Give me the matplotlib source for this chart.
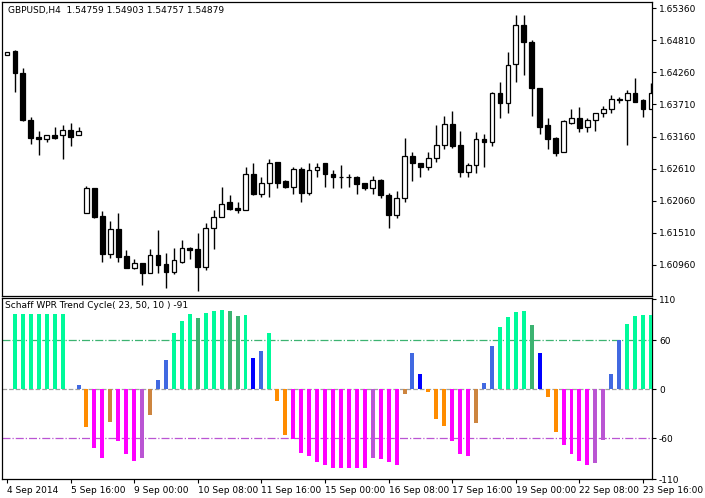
import matplotlib
matplotlib.use("Agg")
import matplotlib.pyplot as plt
import numpy as np

opens = [1.6455,1.6462,1.6424,1.6345,1.6316,1.6311,1.6318,1.6318,1.6328,1.6318,
         1.6185,1.6227,1.6180,1.6115,1.6158,1.6111,1.6091,1.6099,1.6082,1.6113,
         1.6098,1.6084,1.6101,1.6125,1.6123,1.6092,1.6160,1.6178,1.6203,1.6194,
         1.6190,1.6251,1.6218,1.6237,1.6273,1.6239,1.6230,1.6261,1.6220,1.6258,
         1.6270,1.6251,1.6247,1.6247,1.6246,1.6237,1.6227,1.6242,1.6216,1.6182,
         1.6211,1.6282,1.6270,1.6263,1.6280,1.6301,1.6337,1.6301,1.6256,1.6268,
         1.6311,1.6306,1.6390,1.6373,1.6440,1.6507,1.6478,1.6399,1.6335,1.6313,
         1.6289,1.6340,1.6347,1.6332,1.6345,1.6356,1.6363,1.6381,1.6378,1.6390,
         1.6378,1.6364]
highs = [1.6461,1.6464,1.6433,1.6350,1.6325,1.6318,1.6332,1.6335,1.6340,1.6333,
         1.6232,1.6227,1.6189,1.6172,1.6185,1.6122,1.6106,1.6099,1.6123,1.6156,
         1.6117,1.6125,1.6139,1.6127,1.6151,1.6168,1.6190,1.6230,1.6216,1.6203,
         1.6264,1.6270,1.6246,1.6277,1.6273,1.6242,1.6264,1.6264,1.6271,1.6270,
         1.6271,1.6259,1.6268,1.6251,1.6249,1.6237,1.6249,1.6244,1.6220,1.6223,
         1.6313,1.6289,1.6271,1.6289,1.6335,1.6352,1.6359,1.6325,1.6271,1.6323,
         1.6320,1.6393,1.6409,1.6461,1.6524,1.6524,1.6481,1.6400,1.6347,1.6316,
         1.6345,1.6364,1.6366,1.6347,1.6356,1.6368,1.6388,1.6383,1.6395,1.6416,
         1.6380,1.6407]
lows = [1.6455,1.6393,1.6342,1.6304,1.6285,1.6306,1.6311,1.6278,1.6299,1.6318,
        1.6185,1.6177,1.6101,1.6108,1.6101,1.6091,1.6089,1.6062,1.6082,1.6082,
        1.6056,1.6080,1.6099,1.6106,1.6051,1.6087,1.6123,1.6178,1.6190,1.6185,
        1.6190,1.6216,1.6213,1.6213,1.6227,1.6227,1.6218,1.6203,1.6216,1.6247,
        1.6230,1.6228,1.6228,1.6230,1.6218,1.6225,1.6218,1.6211,1.6160,1.6177,
        1.6204,1.6239,1.6247,1.6259,1.6273,1.6294,1.6297,1.6247,1.6246,1.6254,
        1.6264,1.6299,1.6347,1.6356,1.6409,1.6421,1.6352,1.6320,1.6294,1.6282,
        1.6289,1.6337,1.6323,1.6323,1.6325,1.6349,1.6356,1.6373,1.6301,1.6376,
        1.6350,1.6364]
closes = [1.6461,1.6424,1.6344,1.6314,1.6311,1.6318,1.6314,1.6328,1.6316,1.6326,
          1.6227,1.6178,1.6115,1.6158,1.6110,1.6091,1.6099,1.6082,1.6113,1.6096,
          1.6084,1.6105,1.6125,1.6122,1.6092,1.6160,1.6178,1.6201,1.6192,1.6190,
          1.6251,1.6218,1.6237,1.6271,1.6237,1.6230,1.6261,1.6220,1.6259,1.6263,
          1.6251,1.6246,1.6246,1.6246,1.6235,1.6227,1.6242,1.6216,1.6182,1.6211,
          1.6282,1.6270,1.6263,1.6280,1.6301,1.6337,1.6299,1.6256,1.6268,1.6311,
          1.6306,1.6390,1.6373,1.6438,1.6507,1.6478,1.6399,1.6333,1.6311,1.6287,
          1.6342,1.6347,1.6330,1.6345,1.6356,1.6363,1.6381,1.6378,1.6390,1.6376,
          1.6364,1.6390]

stc = [0,92,92,92,92,92,92,92,0,5,-46,-72,-84,-40,-63,-80,-88,-84,-32,11,
       36,68,83,92,87,93,96,97,95,89,91,38,47,69,-14,-56,-61,-78,-82,-89,
       -93,-96,-96,-96,-96,-96,-84,-85,-89,-93,-6,44,19,-4,-37,-45,-63,-79,-82,-41,
       8,53,76,88,94,95,78,44,-10,-53,-68,-80,-88,-93,-90,-62,18,60,79,89,
       91,91]
stc_state = list("GGGGGGGGBBOMMPMMMVPB"
                 "BGGGSGGGSSGKBGOOMMMM"
                 "MMMMMMVMMMPBKOOOMMMP"
                 "BBGGGGSKOOMMMMVVBBGG"
                 "GG")
state_colors = {"G": "#00FA9A", "S": "#3CB371", "B": "#4169E1", "K": "#0000FF",
                "O": "#FF8C00", "P": "#CD853F", "M": "#FF00FF", "V": "#BA55D3"}

price_ticks = [1.60960, 1.61510, 1.62060, 1.62610, 1.63160, 1.63710, 1.64260, 1.64810, 1.65360]
ind_ticks = [110, 60, 0, -60, -110]
date_labels = ["4 Sep 2014", "5 Sep 16:00", "9 Sep 00:00", "10 Sep 08:00", "11 Sep 16:00",
               "15 Sep 00:00", "16 Sep 08:00", "17 Sep 16:00", "19 Sep 00:00",
               "22 Sep 08:00", "23 Sep 16:00"]
date_pos = [0, 8, 16, 24, 32, 40, 48, 56, 64, 72, 80]

plt.rcParams["font.family"] = ["DejaVu Sans"]
W, H = 705, 498
fig = plt.figure(figsize=(W / 100, H / 100), dpi=100)
ax1 = fig.add_axes([2 / W, 1 - 296 / H, 650 / W, 294 / H])
ax2 = fig.add_axes([2 / W, 1 - 479 / H, 650 / W, 181 / H])

x = np.arange(len(opens))
o = np.array(opens); c = np.array(closes); h = np.array(highs); l = np.array(lows)
up = c >= o
ax1.vlines(x, l, h, color="black", lw=1)
bot = np.minimum(o, c)
hei = np.maximum(np.abs(c - o), 0.00004)
ax1.bar(x, hei, 0.6, bottom=bot, color=np.where(up, "white", "black"),
        edgecolor="black", linewidth=0.9, zorder=3)
ax1.set_ylim(1.6550 - 0.000172 * 295, 1.6550 - 0.000172 * 2)
ax1.text(0.01, 0.985, "GBPUSD,H4  1.54759 1.54903 1.54757 1.54879", transform=ax1.transAxes,
         fontsize=6.5, va="top", ha="left")

cols = [state_colors[s] for s in stc_state]
ax2.bar(x, stc, 0.5, color=cols, zorder=3)
ax2.axhline(60, color="#3CB371", lw=0.9, ls="-.")
ax2.axhline(-60, color="#BA55D3", lw=0.9, ls="-.")
ax2.axhline(0, color="#a0a0a0", lw=0.9, ls="--")
ax2.set_ylim(-109, 111.4)
ax2.text(0.005, 0.985, "Schaff WPR Trend Cycle( 23, 50, 10 ) -91", transform=ax2.transAxes,
         fontsize=6.5, va="top", ha="left")

for ax in (ax1, ax2):
    ax.set_xlim(-0.625, 81.125)
    ax.yaxis.tick_right()
    ax.tick_params(axis="y", direction="out", length=3, labelsize=6.5, pad=2)
    for s in ax.spines.values():
        s.set_linewidth(0.9)
ax1.set_yticks(price_ticks)
ax1.set_yticklabels([f"{v:.5f}" for v in price_ticks])
ax1.set_xticks([])
ax2.set_yticks(ind_ticks)
ax2.set_yticklabels([str(v) for v in ind_ticks])
ax2.set_xticks(date_pos)
ax2.set_xticklabels(date_labels, ha="left")
ax2.tick_params(axis="x", direction="out", length=3, labelsize=6.5, pad=2)

fig.savefig("out.png", dpi=100)
